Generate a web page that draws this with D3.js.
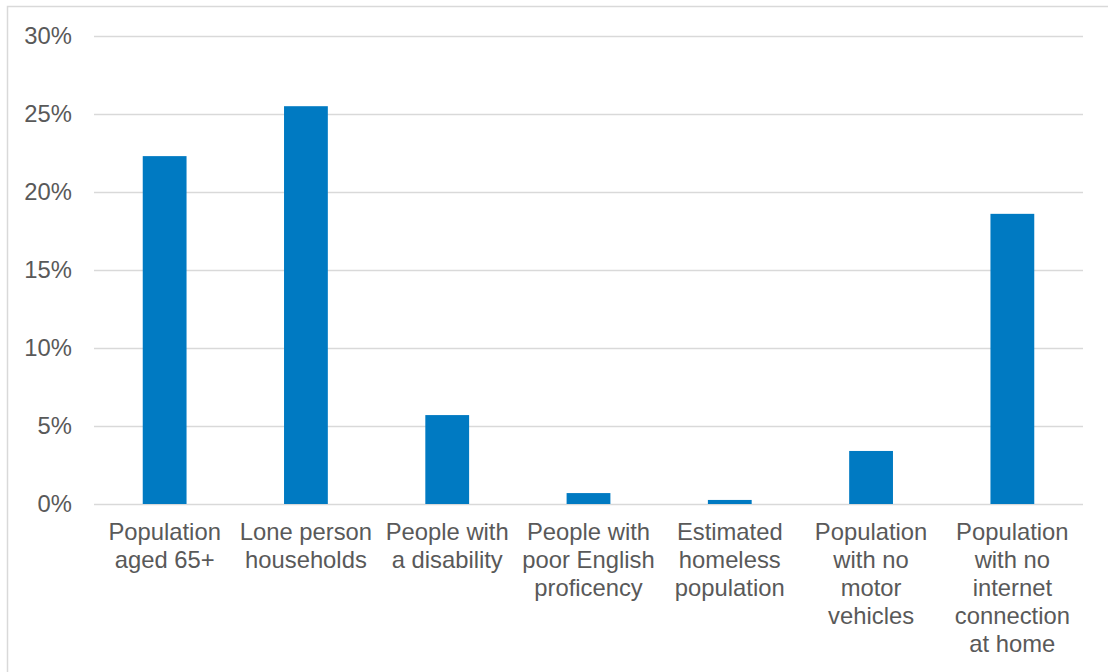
<!DOCTYPE html>
<html>
<head>
<meta charset="utf-8">
<script src="https://cdn.jsdelivr.net/npm/d3@7"></script>
<style>
  html, body { margin: 0; padding: 0; background: #fff; }
  svg { display: block; font-family: "Liberation Sans", Arial, sans-serif; }
</style>
</head>
<body>
<div id="chart"></div>
<script>
const categories = [
  ['Population', 'aged 65+'],
  ['Lone person', 'households'],
  ['People with', 'a disability'],
  ['People with', 'poor English', 'proficency'],
  ['Estimated', 'homeless', 'population'],
  ['Population', 'with no', 'motor', 'vehicles'],
  ['Population', 'with no', 'internet', 'connection', 'at home']
];
const values = [22.3, 25.5, 5.7, 0.7, 0.26, 3.4, 18.6];
const yTicks = [0, 5, 10, 15, 20, 25, 30];

const W = 1108, H = 672;
const margin = { top: 36, right: 25, bottom: 168, left: 94 };
const width = W - margin.left - margin.right;
const height = H - margin.top - margin.bottom;

const root = d3.select('#chart').append('svg')
  .attr('width', W)
  .attr('height', H);

// outer frame (runs off the right and bottom edges)
root.append('rect')
  .attr('x', 7.5).attr('y', 6.5)
  .attr('width', W + 20).attr('height', H + 20)
  .attr('fill', 'none')
  .attr('stroke', '#d9d9d9')
  .attr('stroke-width', 1.5);

const svg = root.append('g')
  .attr('transform', `translate(${margin.left},${margin.top})`);

const x = d3.scaleBand()
  .domain(d3.range(categories.length))
  .range([0, width])
  .paddingInner(0.69)
  .paddingOuter(0.345);

const y = d3.scaleLinear()
  .domain([0, 30])
  .range([height, 0]);

// gridlines
svg.append('g')
  .selectAll('line')
  .data(yTicks)
  .join('line')
  .attr('x1', 0).attr('x2', width)
  .attr('y1', d => Math.round(y(d)) + 0.5)
  .attr('y2', d => Math.round(y(d)) + 0.5)
  .attr('stroke', '#d9d9d9')
  .attr('stroke-width', 1.5);

// y axis labels
const yAxis = svg.append('g')
  .call(d3.axisLeft(y).tickValues(yTicks).tickFormat(d => d + '%').tickSize(0).tickPadding(22));
yAxis.select('.domain').remove();
yAxis.selectAll('text')
  .attr('fill', '#595959')
  .style('font-size', '23.8px')
  .style('font-family', '"Liberation Sans", Arial, sans-serif');

// bars
svg.append('g')
  .selectAll('rect')
  .data(values)
  .join('rect')
  .attr('x', (d, i) => x(i))
  .attr('width', x.bandwidth())
  .attr('y', d => y(d))
  .attr('height', d => y(0) - y(d))
  .attr('fill', '#007ac2');

// category labels
const labels = svg.append('g')
  .selectAll('text')
  .data(categories)
  .join('text')
  .attr('x', (d, i) => x(i) + x.bandwidth() / 2)
  .attr('y', height + 36)
  .attr('text-anchor', 'middle')
  .attr('fill', '#595959')
  .style('font-size', '23.8px');

labels.selectAll('tspan')
  .data(d => d)
  .join('tspan')
  .attr('x', function() { return this.parentNode.getAttribute('x'); })
  .attr('dy', (d, i) => i === 0 ? 0 : 28)
  .text(d => d);
</script>
</body>
</html>
